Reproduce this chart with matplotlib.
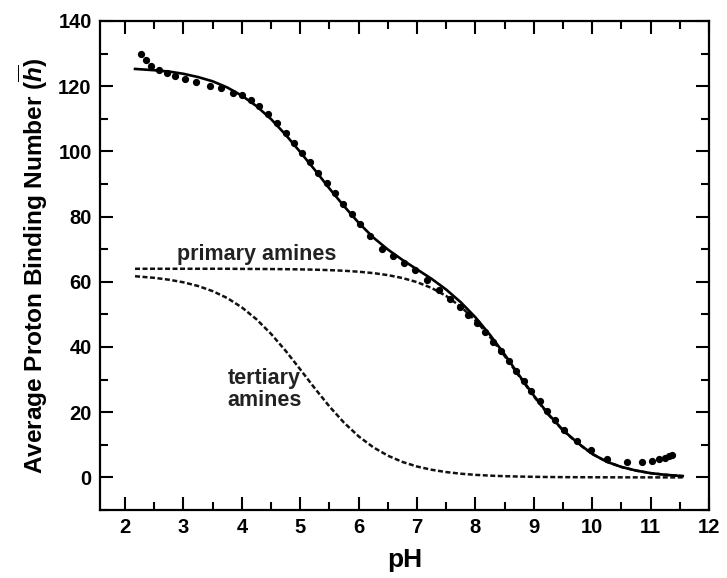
import matplotlib
matplotlib.use("Agg")
import matplotlib.pyplot as plt
from matplotlib.ticker import MultipleLocator

plt.rcParams['font.family'] = ['Liberation Sans', 'DejaVu Sans']
plt.rcParams['font.weight'] = 'bold'
plt.rcParams['mathtext.fontset'] = 'custom'
plt.rcParams['mathtext.rm'] = 'Liberation Sans:bold'
plt.rcParams['mathtext.it'] = 'Liberation Sans:bold:italic'
plt.rcParams['mathtext.bf'] = 'Liberation Sans:bold'

# ---- data ----
ph_fit = [2.17, 2.5, 2.75, 3.0, 3.25, 3.5, 3.75, 4.0, 4.25, 4.5, 4.75, 5.0, 5.25,
          5.5, 5.75, 6.0, 6.25, 6.5, 6.75, 7.0, 7.25, 7.5, 7.75, 8.0, 8.25, 8.5,
          8.75, 9.0, 9.25, 9.5, 9.75, 10.0, 10.25, 10.5, 10.75, 11.0, 11.25, 11.55]

total_fit = [125.3, 124.9, 124.5, 123.8, 122.8, 121.5, 119.6, 117.1, 113.9, 109.9,
             105.1, 99.8, 94.3, 88.6, 83.2, 78.1, 73.6, 69.9, 66.7, 63.8, 60.9,
             57.6, 53.7, 49.1, 43.7, 37.7, 31.3, 25.1, 19.4, 14.5, 10.6, 7.2, 4.8,
             3.2, 2.1, 1.3, 0.8, 0.4]

primary = [64.0, 64.0, 64.0, 64.0, 64.0, 64.0, 64.0, 63.96, 63.94, 63.91, 63.87,
           63.81, 63.72, 63.58, 63.39, 63.09, 62.67, 62.05, 61.16, 59.89, 58.10,
           55.64, 52.36, 48.16, 43.06, 37.22, 31.01, 24.86, 19.23, 14.40, 10.50,
           7.2, 4.8, 3.2, 2.1, 1.3, 0.8, 0.4]

tertiary = [61.71, 61.21, 60.64, 59.84, 58.71, 57.13, 55.01, 52.14, 48.50, 44.02,
            38.82, 33.12, 27.29, 21.74, 16.77, 12.59, 9.24, 6.67, 4.74, 3.34, 2.34,
            1.63, 1.13, 0.78, 0.54, 0.37, 0.26, 0.18, 0.12, 0.08, 0.06, 0.04, 0.03,
            0.02, 0.01, 0.01, 0.0, 0.0]

ph_data = [2.27, 2.35, 2.45, 2.58, 2.72, 2.86, 3.02, 3.22, 3.45, 3.65, 3.85, 4.01,
           4.15, 4.29, 4.45, 4.60, 4.75, 4.89, 5.03, 5.17, 5.31, 5.45, 5.59, 5.74,
           5.89, 6.02, 6.20, 6.40, 6.59, 6.78, 6.97, 7.17, 7.37, 7.57, 7.74, 7.88,
           8.02, 8.16, 8.30, 8.44, 8.57, 8.70, 8.83, 8.96, 9.10, 9.23, 9.37, 9.52,
           9.74, 9.98, 10.26, 10.59, 10.85, 11.03, 11.15, 11.24, 11.31, 11.37]
h_data = [130.0, 128.0, 126.3, 124.9, 123.9, 123.2, 122.3, 121.2, 120.2, 119.3,
          118.0, 117.2, 115.8, 113.8, 111.4, 108.6, 105.6, 102.6, 99.6, 96.6, 93.5,
          90.4, 87.2, 83.9, 80.7, 77.8, 74.0, 70.2, 67.8, 65.8, 63.6, 60.6, 57.6,
          54.8, 52.3, 49.8, 47.3, 44.5, 41.6, 38.7, 35.8, 32.7, 29.6, 26.6, 23.4,
          20.5, 17.5, 14.6, 11.2, 8.3, 5.6, 4.6, 4.6, 5.1, 5.6, 6.1, 6.5, 6.8]

x_ticks = [2, 3, 4, 5, 6, 7, 8, 9, 10, 11, 12]
y_ticks = [0, 20, 40, 60, 80, 100, 120, 140]

fig = plt.figure(figsize=(7.27, 5.78), dpi=100)
ax = fig.add_axes([100 / 727, 68 / 578, 609 / 727, 489 / 578])

dash = (0, (2.0, 1.0))
ax.plot(ph_fit, primary, color='#111111', lw=1.8, linestyle=dash)
ax.plot(ph_fit, tertiary, color='#111111', lw=1.8, linestyle=dash)
ax.plot(ph_fit, total_fit, color='black', lw=1.9)
ax.plot(ph_data, h_data, 'o', color='black', ms=4.2, mec='black')

ax.set_xlim(1.57, 12)
ax.set_ylim(-10, 140)
ax.set_xticks(x_ticks)
ax.set_yticks(y_ticks)
ax.xaxis.set_minor_locator(MultipleLocator(0.5))
ax.yaxis.set_minor_locator(MultipleLocator(10))
ax.tick_params(which='both', direction='in', top=True, right=True, width=1.5,
               labelsize=14.5, pad=6)
ax.tick_params(which='major', length=9.5)
ax.tick_params(which='minor', length=5.5)
for s in ax.spines.values():
    s.set_linewidth(1.6)

ax.set_xlabel('pH', fontsize=19, fontweight='bold', labelpad=8)
ax.set_ylabel(r'Average Proton Binding Number ($\overline{h}$)', fontsize=17.6,
              fontweight='bold', labelpad=6)

ax.text(4.26, 68.4, 'primary amines', fontsize=15.5, fontweight='bold',
        color='#222222', ha='center', va='center')
ax.text(4.39, 27.0, 'tertiary\namines', fontsize=15.5, fontweight='bold',
        color='#222222', ha='center', va='center', linespacing=1.05)

fig.savefig('out.png', dpi=100)
